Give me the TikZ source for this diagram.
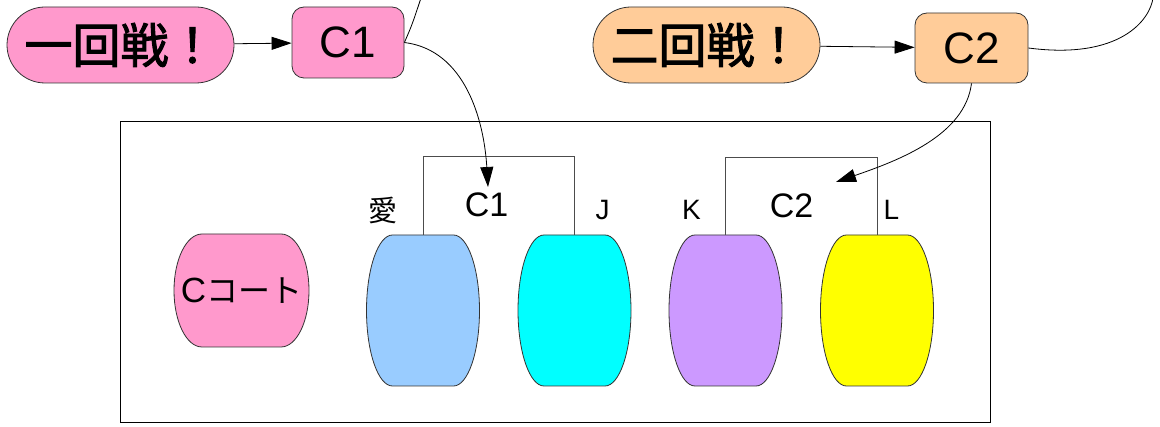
\documentclass[tikz,border=0pt]{standalone}
\usepackage{fontspec}
\setmainfont{Liberation Sans}
\newfontfamily\cjk{Noto Sans CJK JP}
\newfontfamily\cjkbold[FakeBold=2]{Noto Sans CJK JP}
\usetikzlibrary{arrows.meta}
\definecolor{pinkc}{HTML}{FF99CC}
\definecolor{orangec}{HTML}{FFCC99}
\definecolor{bluec}{HTML}{99CCFF}
\definecolor{cyanc}{HTML}{00FFFF}
\definecolor{purplec}{HTML}{CC99FF}
\definecolor{yellowc}{HTML}{FFFF00}
% barrel: cx, cy, half width, half height, bulge, fill
\newcommand\barrelshape[6]{%
  \draw[shapeline, fill=#6]
    ({#1-#3+#5},{#2-#4}) -- ({#1+#3-#5},{#2-#4})
    .. controls ({#1+#3-0.448*#5},{#2-#4}) and ({#1+#3},{#2-0.552*#4}) .. ({#1+#3},#2)
    .. controls ({#1+#3},{#2+0.552*#4}) and ({#1+#3-0.448*#5},{#2+#4}) .. ({#1+#3-#5},{#2+#4})
    -- ({#1-#3+#5},{#2+#4})
    .. controls ({#1-#3+0.448*#5},{#2+#4}) and ({#1-#3},{#2+0.552*#4}) .. ({#1-#3},#2)
    .. controls ({#1-#3},{#2-0.552*#4}) and ({#1-#3+0.448*#5},{#2-#4}) .. cycle;}
\begin{document}
\begin{tikzpicture}[x=1pt,y=-1pt,
  shapeline/.style={draw=black!80, line width=0.8pt},
  pill/.style={shapeline, rounded corners=38pt, minimum width=227pt, minimum height=76pt, inner sep=0pt,
    font=\cjkbold\fontsize{48}{48}\selectfont},
  cbox/.style={shapeline, rounded corners=12pt, minimum width=112pt, minimum height=71pt, inner sep=0pt,
    font=\fontsize{44}{44}\selectfont},
  conn/.style={line width=0.8pt, -{Triangle[length=20pt,width=13pt]}},
  plainline/.style={line width=0.8pt},
  bracketline/.style={draw=black!70, line width=1pt},
  lab/.style={inner sep=0pt, font=\fontsize{28}{28}\selectfont},
  biglab/.style={inner sep=0pt, font=\fontsize{34}{34}\selectfont}]
\useasboundingbox (0,0) rectangle (1160,427);

% top row
\node[pill, fill=pinkc] (r1) at (120.5,45) {一回戦！};
\node[cbox, fill=pinkc] (c1) at (348,42.5) {C1};
\node[pill, fill=orangec] (r2) at (706.5,45) {二回戦！};
\node[cbox, fill=orangec, minimum width=113pt, minimum height=70pt] (c2) at (971.5,48) {C2};

% court frame
\node[draw=black, line width=1pt, minimum width=870pt, minimum height=301pt, inner sep=0pt] (court) at (555,272.5) {};

% barrels
\barrelshape{241.5}{290.5}{67.5}{56.5}{28}{pinkc}
\node[inner sep=0pt, font=\fontsize{32}{32}\selectfont] (ccourt) at (241.5,291) {{\fontsize{35}{35}\selectfont C}{\cjk コート}};
\barrelshape{423}{310.5}{56.5}{75.5}{26}{bluec}
\barrelshape{574.5}{310.5}{56.5}{75.5}{26}{cyanc}
\barrelshape{725.5}{310.5}{56.5}{75.5}{26}{purplec}
\barrelshape{877}{310.5}{56.5}{75.5}{26}{yellowc}
\coordinate (blueT) at (423,235);
\coordinate (cyanT) at (574.5,235);
\coordinate (purpleT) at (725.5,235);
\coordinate (yellowT) at (877,235);

% brackets
\draw[bracketline] (blueT) -- ++(0,-78) -| (cyanT);
\draw[bracketline] (purpleT) -- ++(0,-77) -| (yellowT);

% labels
\node[inner sep=0pt, font=\cjk\fontsize{29}{29}\selectfont] (lai) at (383,210) {愛};
\node[biglab] (lc1) at (486.5,205) {C1};
\node[lab] (lj) at (602.5,210) {J};
\node[lab] (lk) at (691.5,210) {K};
\node[biglab] (lc2) at (791.5,205.5) {C2};
\node[lab] (ll) at (891.5,210) {L};

% connectors
\draw[conn] (r1) -- (c1);
\draw[conn] (r2) -- (c2);
\coordinate (c1tip) at (488,187);
\coordinate (c2tip) at (836,182);
\coordinate (c1out) at (421,-2);
\coordinate (c2out) at (1153,-2);
\draw[conn] (c1.east) .. controls (465,50) and (484,120) .. (c1tip);
\draw[conn] (c2.south) .. controls (965,135) and (900,160) .. (c2tip);
\draw[plainline] (c1.east) .. controls (412,25) .. (c1out);
\draw[plainline] (c2.east) .. controls (1120,60) and (1150,20) .. (c2out);
\end{tikzpicture}
\end{document}
